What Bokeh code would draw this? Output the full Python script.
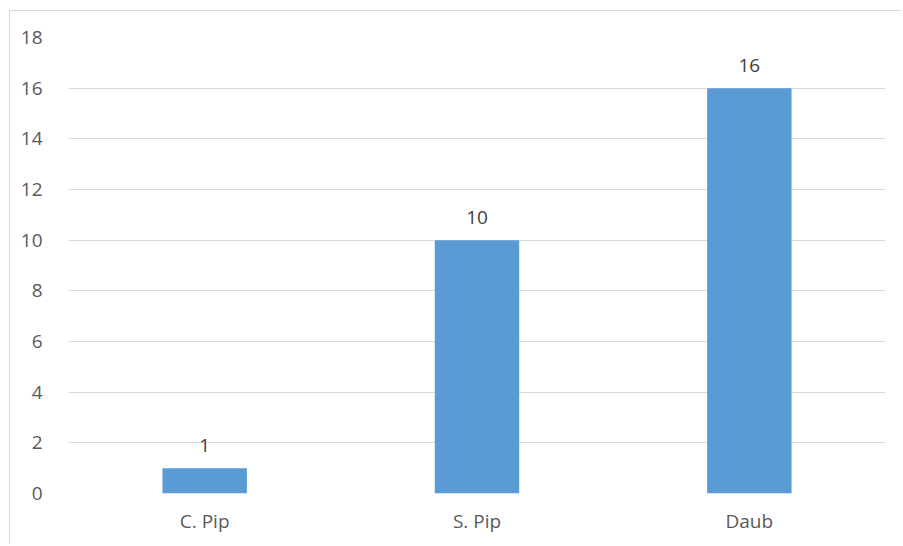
from bokeh.plotting import figure
from bokeh.models import ColumnDataSource, FixedTicker, Range1d, LabelSet
from bokeh.core.properties import value
from bokeh.embed import file_html
from bokeh.resources import INLINE

categories = ["C. Pip", "S. Pip", "Daub"]
values = [1, 10, 16]
y_ticks = [0, 2, 4, 6, 8, 10, 12, 14, 16, 18]

src = ColumnDataSource(data=dict(cat=categories, val=values, lbl=[str(v) for v in values]))

p = figure(x_range=categories, y_range=Range1d(0, 18), width=892, height=534,
           output_backend="svg", toolbar_location=None,
           min_border_left=58, min_border_right=17, min_border_top=26, min_border_bottom=52)
p.styles = {"border-top": "1px solid #d9d9d9", "border-left": "1px solid #d9d9d9",
            "margin-top": "10px", "margin-left": "9px"}
p.x_range.range_padding = 0
p.outline_line_color = None
p.background_fill_color = "white"
p.border_fill_color = "white"

p.vbar(x="cat", top="val", width=0.31, source=src, fill_color="#5b9bd5", line_color=None)

labels = LabelSet(x="cat", y="val", text="lbl", source=src, text_align="center",
                  text_baseline="bottom", y_offset=16, text_font=value("Open Sans"),
                  text_font_size="19px", text_color="#404040")
p.add_layout(labels)

p.yaxis.ticker = FixedTicker(ticks=y_ticks)
p.ygrid.ticker = FixedTicker(ticks=y_ticks)
p.xgrid.grid_line_color = None
p.ygrid.grid_line_color = "#d9d9d9"
p.ygrid.grid_line_width = 1

for ax in (p.xaxis, p.yaxis):
    ax.axis_line_color = None
    ax.major_tick_line_color = None
    ax.minor_tick_line_color = None
    ax.major_label_text_font = "Open Sans"
    ax.major_label_text_font_size = "19px"
    ax.major_label_text_color = "#595959"
p.yaxis.major_label_standoff = 20
p.xaxis.major_label_standoff = 8

open("out.html", "w").write(file_html(p, INLINE))
